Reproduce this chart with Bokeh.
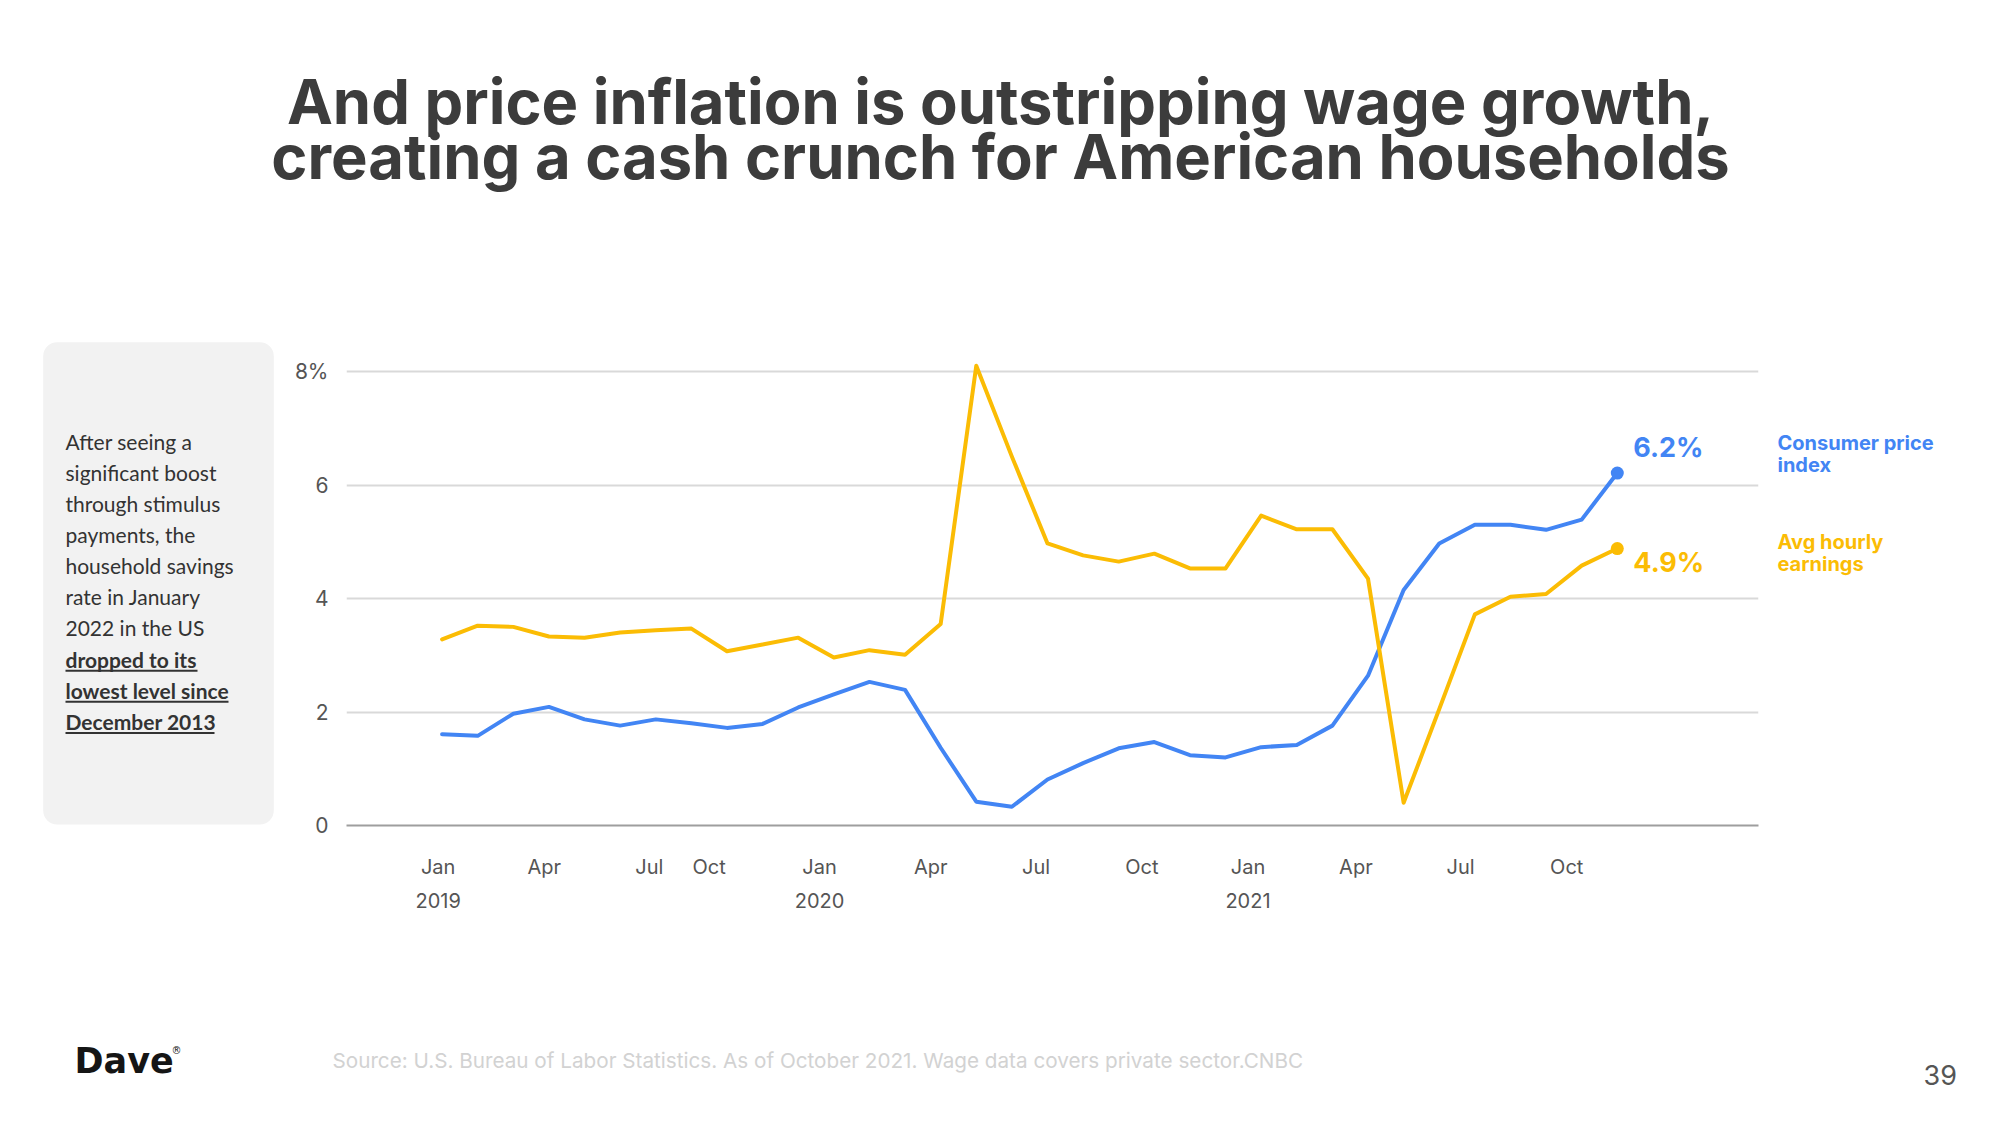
from bokeh.plotting import figure
from bokeh.models import Range1d, FixedTicker, Label, BoxAnnotation
from bokeh.layouts import column, row
from bokeh.embed import file_html
from bokeh.resources import INLINE

# ---------------- data ----------------
months = ["2019-01", "2019-02", "2019-03", "2019-04", "2019-05", "2019-06", "2019-07", "2019-08",
          "2019-09", "2019-10", "2019-11", "2019-12", "2020-01", "2020-02", "2020-03", "2020-04",
          "2020-05", "2020-06", "2020-07", "2020-08", "2020-09", "2020-10", "2020-11", "2020-12",
          "2021-01", "2021-02", "2021-03", "2021-04", "2021-05", "2021-06", "2021-07", "2021-08",
          "2021-09", "2021-10"]
cpi = [1.61, 1.58, 1.97, 2.09, 1.87, 1.76, 1.87, 1.80, 1.72, 1.79, 2.08, 2.31,
       2.53, 2.39, 1.37, 0.42, 0.33, 0.81, 1.10, 1.36, 1.47, 1.24, 1.20, 1.38,
       1.42, 1.76, 2.64, 4.15, 4.97, 5.30, 5.30, 5.21, 5.39, 6.21]
earnings = [3.28, 3.52, 3.50, 3.33, 3.31, 3.40, 3.44, 3.47, 3.07, 3.19, 3.31, 2.96,
            3.09, 3.01, 3.55, 8.10, 6.50, 4.97, 4.76, 4.65, 4.79, 4.53, 4.53, 5.46,
            5.22, 5.22, 4.35, 0.40, 2.05, 3.72, 4.03, 4.08, 4.58, 4.88]
month_labels = ["Jan", "Apr", "Jul", "Oct", "Jan", "Apr", "Jul", "Oct", "Jan", "Apr", "Jul", "Oct"]
year_labels = ["2019", "", "", "", "2020", "", "", "", "2021", "", "", ""]
y_ticks = [0, 2, 4, 6, 8]
series_names = ["Consumer price\nindex", "Avg hourly\nearnings"]
end_labels = ["6.2%", "4.9%"]

# axis label positions (month index units, as placed in the reference)
tick_pos = [-0.11, 2.87, 5.82, 7.5, 10.6, 13.72, 16.68, 19.65, 22.63, 25.66, 28.6, 31.58]

BLUE = "#4285f4"
YELLOW = "#fbbc04"
DARK = "#3c3c3c"
GREY = "#555555"

PAGE_W = 2000
HEAD_H = 330
MID_H = 600
FOOT_H = 190
PANEL_W = 280
LEG_W = 230
CHART_W = PAGE_W - PANEL_W - LEG_W

# frame of the chart on the page (shared by the middle row)
FL, FR, FT, FB = 346, 1758, 335, 825
MB_TOP = FT - HEAD_H
MB_BOT = HEAD_H + MID_H - FB

# distance from alphabetic baseline up to the box middle, per em
MID = {"Inter": 0.36, "Lato": 0.387, "DejaVu Sans": 0.346}


def no_align(f):
    try:
        f.frame_align = False
    except Exception:
        pass


def canvas_fig(w, h, x0, y0, mb_top=0, mb_bot=0):
    """Figure whose frame spans the page region; data units = page pixels (y down)."""
    f = figure(width=w, height=h, x_range=Range1d(x0, x0 + w),
               y_range=Range1d(y0 + h - mb_bot, y0 + mb_top),
               output_backend="svg", toolbar_location=None, min_border=0,
               min_border_top=mb_top, min_border_bottom=mb_bot,
               x_axis_type=None, y_axis_type=None, title=None)
    f.outline_line_color = None
    f.background_fill_color = "white"
    f.border_fill_color = "white"
    no_align(f)
    return f


def txt(f, x, base, t, size, color, font="Inter", style="normal", align="left"):
    f.add_layout(Label(x=x, y=base - MID[font] * size, text=t, text_font=font,
                       text_font_style=style, text_font_size=f"{size}px", text_color=color,
                       text_align=align, text_baseline="middle"))


# ---------------- header ----------------
head = canvas_fig(PAGE_W, HEAD_H, 0, 0)
title_lines = ["And price inflation is outstripping wage growth,",
               "creating a cash crunch for American households"]
for k, t in enumerate(title_lines):
    txt(head, 1000, 122.7 + k * 55.6, t, 61.5, DARK, style="bold", align="center")

# ---------------- side panel ----------------
panel = canvas_fig(PANEL_W, MID_H, 0, HEAD_H, MB_TOP, MB_BOT)
panel.add_layout(BoxAnnotation(left=42.7, right=273.3, top=341.7, bottom=824,
                               fill_color="#f2f2f2", fill_alpha=1, line_color=None,
                               border_radius=14, level="underlay"))
panel_lines = ["After seeing a", "significant boost", "through stimulus", "payments, the",
               "household savings", "rate in January", "2022 in the US",
               "dropped to its", "lowest level since", "December 2013"]
panel_bold = [False] * 7 + [True] * 3
underline_w = [132, 163, 149]
for k, (t, b) in enumerate(zip(panel_lines, panel_bold)):
    base = 449 + k * 31.1
    txt(panel, 65, base, t, 21, "#333333", font="Lato", style="bold" if b else "normal")
    if b:
        w = underline_w[k - 7]
        panel.add_layout(BoxAnnotation(left=65, right=65 + w, top=base + 2.5, bottom=base + 4.5,
                                       fill_color="#333333", fill_alpha=1, line_color=None))

# ---------------- chart ----------------
PX_X = 35.612
PX_Y = 56.75
X0 = -(441.6 - FL) / PX_X
X1 = X0 + (FR - FL) / PX_X
Y0 = 0.0
Y1 = (FB - FT) / PX_Y

x = list(range(len(months)))
p = figure(width=CHART_W, height=MID_H, x_range=Range1d(X0, X1), y_range=Range1d(Y0, Y1),
           output_backend="svg", toolbar_location=None, title=None,
           min_border_left=FL - PANEL_W, min_border_right=PANEL_W + CHART_W - FR,
           min_border_top=MB_TOP, min_border_bottom=MB_BOT)
no_align(p)
p.outline_line_color = None
p.background_fill_color = "white"
p.border_fill_color = "white"

p.xaxis.ticker = FixedTicker(ticks=tick_pos)
p.xaxis.major_label_overrides = {
    t: (m + "\n" + yv if yv else m) for t, m, yv in zip(tick_pos, month_labels, year_labels)
}
p.xaxis.axis_line_color = "#9e9e9e"
p.xaxis.axis_line_width = 2
p.xaxis.major_tick_line_color = None
p.xaxis.minor_tick_line_color = None
p.xaxis.major_label_text_font = "Inter"
p.xaxis.major_label_text_font_size = "20px"
p.xaxis.major_label_text_color = GREY
p.xaxis.major_label_text_line_height = 1.45
p.xaxis.major_label_standoff = 23

p.yaxis.ticker = FixedTicker(ticks=y_ticks)
p.yaxis.major_label_overrides = {8: "8%"}
p.yaxis.axis_line_color = None
p.yaxis.major_tick_line_color = None
p.yaxis.minor_tick_line_color = None
p.yaxis.major_label_text_font = "Inter"
p.yaxis.major_label_text_font_size = "21px"
p.yaxis.major_label_text_color = GREY
p.yaxis.major_label_standoff = 12

p.xgrid.grid_line_color = None
p.ygrid.grid_line_color = "#d9d9d9"
p.ygrid.grid_line_width = 2

p.line(x, cpi, line_color=BLUE, line_width=4, line_join="round", line_cap="round")
p.line(x, earnings, line_color=YELLOW, line_width=4, line_join="round", line_cap="round")
p.scatter([x[-1]], [cpi[-1]], size=13, fill_color=BLUE, line_color=None)
p.scatter([x[-1]], [earnings[-1]], size=13, fill_color=YELLOW, line_color=None)

# end value labels (pixel offsets from the last point, converted to data units)
for val, lab, col, dy_px in [(cpi[-1], end_labels[0], BLUE, 15.6),
                             (earnings[-1], end_labels[1], YELLOW, -24)]:
    p.add_layout(Label(x=x[-1] + 16 / PX_X, y=val + (dy_px + MID["Inter"] * 27) / PX_Y, text=lab,
                       text_font="Inter", text_font_style="bold", text_font_size="27px",
                       text_color=col, text_baseline="middle"))

# ---------------- legend column ----------------
leg = canvas_fig(LEG_W, MID_H, PANEL_W + CHART_W, HEAD_H, MB_TOP, MB_BOT)
for name, col, base in zip(series_names, [BLUE, YELLOW], [450, 549]):
    for j, line in enumerate(name.split("\n")):
        txt(leg, 1777, base + j * 22, line, 20, col, style="bold")

# ---------------- footer ----------------
foot = canvas_fig(PAGE_W, FOOT_H, 0, HEAD_H + MID_H)
txt(foot, 74, 1073, "Dave", 35, "#151515", font="DejaVu Sans", style="bold")
txt(foot, 171, 1053, "®", 10, "#151515", font="DejaVu Sans")
txt(foot, 332, 1067,
    "Source: U.S. Bureau of Labor Statistics. As of October 2021. Wage data covers private sector.CNBC",
    20.7, "#d2d2d2")
txt(foot, 1923, 1084, "39", 27, GREY)

layout = column(head, row(panel, p, leg, spacing=0), foot, spacing=0)
open("out.html", "w").write(file_html(layout, INLINE))
